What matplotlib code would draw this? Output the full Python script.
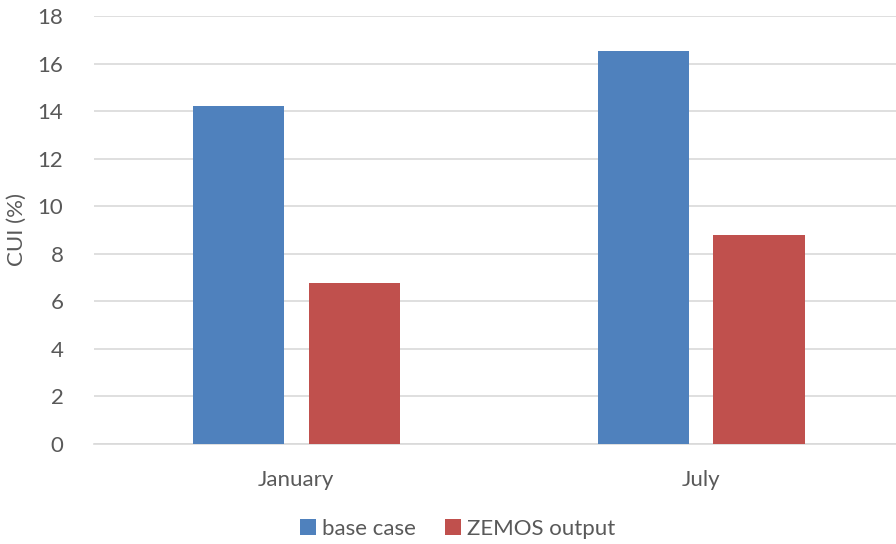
import matplotlib.pyplot as plt
import numpy as np

plt.rcParams['font.family'] = ['Lato', 'DejaVu Sans']

kategorije = ["January", "July"]
base_case = [14.21, 16.53]
zemos = [6.77, 8.79]
serije = ["base case", "ZEMOS output"]
boje = ["#4F81BD", "#C0504D"]
tekst = "#595959"

fig = plt.figure(figsize=(8.96, 5.44), dpi=100)
ax = fig.add_axes([94 / 896, 1 - 444 / 544, 809.5 / 896, 428 / 544])

x = np.arange(len(kategorije))
sirina = 0.225
ax.bar(x - 0.143, base_case, sirina, color=boje[0], label=serije[0], zorder=3)
ax.bar(x + 0.143, zemos, sirina, color=boje[1], label=serije[1], zorder=3)

ax.set_xlim(-0.5, 1.5)
ax.set_ylim(0, 18)
ax.set_yticks(np.arange(0, 19, 2))
ax.set_xticks(x)
ax.set_xticklabels(kategorije)
ax.grid(axis="y", color="#D9D9D9", linewidth=1.2, zorder=0)
for s in ["top", "right", "left"]:
    ax.spines[s].set_visible(False)
ax.spines["bottom"].set_color("#D9D9D9")
ax.spines["bottom"].set_linewidth(1.2)
ax.tick_params(axis="both", length=0, colors=tekst, labelsize=16)
ax.tick_params(axis="x", pad=19)
ax.tick_params(axis="y", pad=22)
ax.set_ylabel("CUI (%)", color=tekst, fontsize=16, labelpad=8)

ax.legend(loc="center", bbox_to_anchor=(458 / 896, 1 - 529 / 544),
          bbox_transform=fig.transFigure, ncol=2, frameon=False,
          fontsize=16, labelcolor=tekst, handlelength=0.7, handleheight=0.7,
          handletextpad=0.3, columnspacing=1.3)

fig.savefig("out.png", dpi=100)
